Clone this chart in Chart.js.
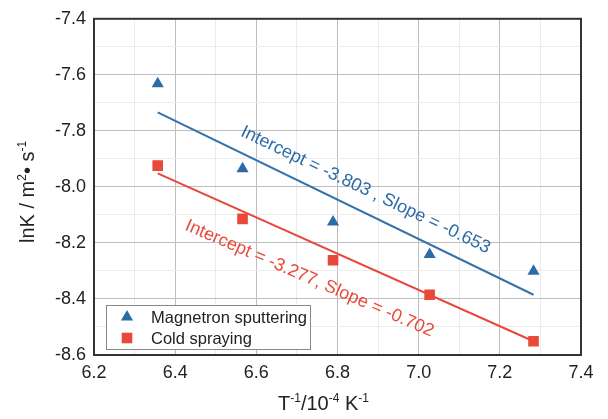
<!DOCTYPE html>
<html>
<head>
<meta charset="utf-8">
<script src="https://cdn.jsdelivr.net/npm/chart.js@4.4.1/dist/chart.umd.min.js"></script>
<style>
  html, body { margin: 0; padding: 0; background: #fff; }
  #wrap { width: 608px; height: 419px; position: relative; }
</style>
</head>
<body>
<div id="wrap"><canvas id="arrheniusChart"></canvas></div>
<script>
// ========== DADOS ==========
const invTemp = [6.357, 6.566, 6.789, 7.027, 7.283];          // T^-1 / 10^-4 K^-1
const lnKMagnetron = [-7.632, -7.935, -8.125, -8.241, -8.301];
const lnKCold = [-7.924, -8.114, -8.262, -8.385, -8.551];

const fitX = [6.357, 7.283];
const fitMagnetron = [-7.734, -8.385];
const fitCold = [-7.952, -8.551];

const seriesNames = ['Magnetron sputtering', 'Cold spraying'];
const fitLabels = ['Intercept = -3.803 , Slope = -0.653', 'Intercept = -3.277, Slope = -0.702'];
// posicao (em coordenadas dos dados) e angulo de cada rotulo
const fitLabelX = [6.869, 6.731];
const fitLabelY = [-8.011, -8.327];
const fitLabelAngle = [25.5, 23.5];

const xTicks = [6.2, 6.4, 6.6, 6.8, 7.0, 7.2, 7.4];
const yTicks = [-8.6, -8.4, -8.2, -8.0, -7.8, -7.6, -7.4];

const BLUE = '#2c6ca6';
const RED = '#e8493b';
const FONT = '"Liberation Sans", Arial, sans-serif';

const toPoints = (xs, ys) => xs.map((x, i) => ({ x: x, y: ys[i] }));

function drawRich(ctx, parts, x, y, size, supSize) {
  let total = 0;
  parts.forEach(p => {
    ctx.font = `${p.sup ? supSize : size}px ${FONT}`;
    p.w = ctx.measureText(p.t).width;
    total += p.w;
  });
  let cx = x - total / 2;
  parts.forEach(p => {
    ctx.font = `${p.sup ? supSize : size}px ${FONT}`;
    ctx.fillText(p.t, cx, p.sup ? y - size * 0.4 : y);
    cx += p.w;
  });
}

// Moldura, titulos dos eixos, rotulos dos ajustes e legenda
const decorPlugin = {
  id: 'decor',
  afterDatasetsDraw(chart) {
    const { ctx, scales } = chart;
    ctx.save();
    ctx.textAlign = 'center';
    ctx.textBaseline = 'middle';
    ctx.font = `18px ${FONT}`;
    [BLUE, RED].forEach((color, i) => {
      ctx.save();
      ctx.translate(scales.x.getPixelForValue(fitLabelX[i]), scales.y.getPixelForValue(fitLabelY[i]));
      ctx.rotate(fitLabelAngle[i] * Math.PI / 180);
      ctx.fillStyle = color;
      ctx.fillText(fitLabels[i], 0, 0);
      ctx.restore();
    });
    ctx.restore();
  },
  afterDraw(chart) {
    const { ctx, chartArea: a } = chart;
    ctx.save();

    // moldura completa
    ctx.strokeStyle = '#333';
    ctx.lineWidth = 2;
    ctx.strokeRect(a.left, a.top, a.right - a.left, a.bottom - a.top);

    // titulos
    ctx.fillStyle = '#222';
    ctx.textAlign = 'left';
    ctx.textBaseline = 'alphabetic';
    drawRich(ctx, [
      { t: 'T' }, { t: '-1', sup: true }, { t: '/10' }, { t: '-4', sup: true },
      { t: ' K' }, { t: '-1', sup: true }
    ], (a.left + a.right) / 2 - 14, 410, 20, 12);

    ctx.save();
    ctx.translate(34, (a.top + a.bottom) / 2 + 5);
    ctx.rotate(-Math.PI / 2);
    drawRich(ctx, [
      { t: 'lnK / m' }, { t: '2', sup: true }, { t: '\u2022 s' }, { t: '-1', sup: true }
    ], 0, 0, 20, 12);
    ctx.restore();

    // legenda
    const lx = a.left + 12, ly = a.bottom - 50, lw = 204, lh = 44;
    ctx.fillStyle = '#fff';
    ctx.fillRect(lx, ly, lw, lh);
    ctx.strokeStyle = '#888';
    ctx.lineWidth = 1;
    ctx.strokeRect(lx + 0.5, ly + 0.5, lw, lh);
    chart.data.datasets.slice(0, 2).forEach((ds, i) => {
      const cy = ly + 12 + i * 21;
      ctx.fillStyle = ds.backgroundColor;
      ctx.strokeStyle = ds.backgroundColor;
      Chart.helpers.drawPoint(ctx, {
        pointStyle: ds.pointStyle, radius: ds.pointRadius, rotation: 0, borderWidth: 0
      }, lx + 21, cy);
      ctx.fillStyle = '#222';
      ctx.font = `16.5px ${FONT}`;
      ctx.textAlign = 'left';
      ctx.textBaseline = 'middle';
      ctx.fillText(ds.label, lx + 45, cy + 1);
    });
    ctx.restore();
  }
};

const gridColor = ctx => {
  const v = Math.round(ctx.tick.value * 10);
  return v % 2 === 0 ? '#bdbdbd' : '#ebebeb';
};
const tickLabel = v => (Math.round(v * 10) % 2 === 0 ? v.toFixed(1) : '');

new Chart(document.getElementById('arrheniusChart'), {
  type: 'scatter',
  data: {
    datasets: [
      {
        label: seriesNames[0],
        data: toPoints(invTemp, lnKMagnetron),
        pointStyle: 'triangle',
        pointRadius: 7,
        backgroundColor: BLUE,
        borderColor: BLUE,
        borderWidth: 0,
        order: 1
      },
      {
        label: seriesNames[1],
        data: toPoints(invTemp, lnKCold),
        pointStyle: 'rect',
        pointRadius: 7.5,
        backgroundColor: RED,
        borderColor: RED,
        borderWidth: 0,
        order: 1
      },
      {
        type: 'line',
        label: 'fit1',
        data: toPoints(fitX, fitMagnetron),
        borderColor: '#3472aa',
        borderWidth: 2,
        pointRadius: 0,
        fill: false,
        order: 2
      },
      {
        type: 'line',
        label: 'fit2',
        data: toPoints(fitX, fitCold),
        borderColor: '#e8473c',
        borderWidth: 2,
        pointRadius: 0,
        fill: false,
        order: 2
      }
    ]
  },
  options: {
    responsive: true,
    maintainAspectRatio: false,
    animation: false,
    layout: { padding: { top: 14, right: 27, left: 0, bottom: 0 } },
    plugins: {
      legend: { display: false },
      tooltip: { enabled: false }
    },
    scales: {
      x: {
        type: 'linear',
        min: xTicks[0],
        max: xTicks[xTicks.length - 1],
        afterFit: s => { s.height = 64; },
        ticks: {
          stepSize: 0.1,
          autoSkip: false,
          maxRotation: 0,
          padding: 7,
          color: '#222',
          font: { family: FONT, size: 18 },
          callback: tickLabel
        },
        grid: { color: gridColor, drawTicks: false, lineWidth: 1 },
        border: { display: false }
      },
      y: {
        type: 'linear',
        min: yTicks[0],
        max: yTicks[yTicks.length - 1],
        afterFit: s => { s.width = 94; },
        ticks: {
          stepSize: 0.1,
          autoSkip: false,
          padding: 8,
          color: '#222',
          font: { family: FONT, size: 18 },
          callback: tickLabel
        },
        grid: { color: gridColor, drawTicks: false, lineWidth: 1 },
        border: { display: false }
      }
    }
  },
  plugins: [decorPlugin]
});
</script>
</body>
</html>
